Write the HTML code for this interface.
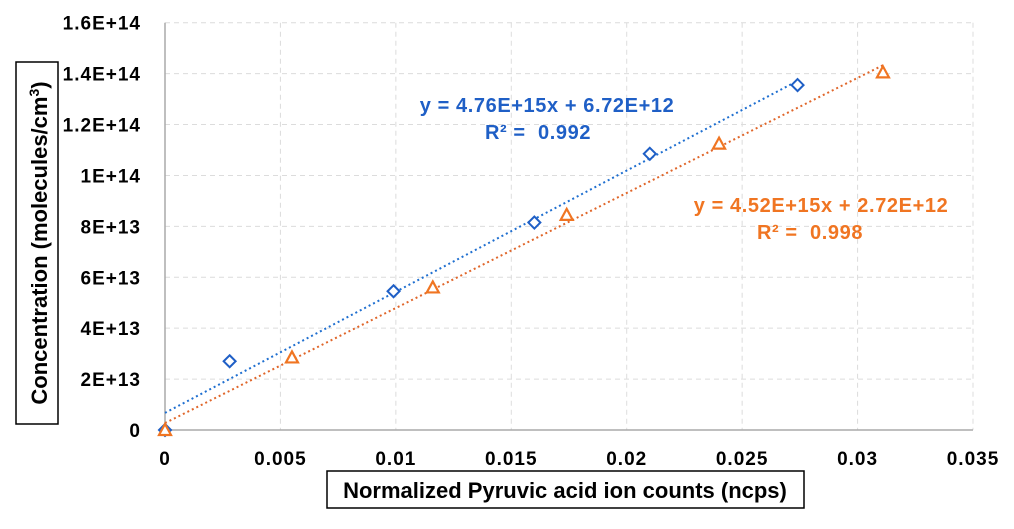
<!DOCTYPE html>
<html><head><meta charset="utf-8"><style>
body{margin:0;background:#fff;}
svg text{font-family:"Liberation Sans",sans-serif;font-weight:bold;white-space:pre;}
</style></head><body>
<svg id="c" width="1014" height="524" xmlns="http://www.w3.org/2000/svg">
<rect x="0" y="0" width="1014" height="524" fill="#fff"/>
<g id="grid"></g><g id="axes"></g><g id="trend"></g><g id="marks"></g>
<rect x="16" y="62" width="42" height="362" fill="#fff" stroke="#000" stroke-width="1.5"/>
<text x="0" y="0" transform="translate(47,243) rotate(-90)" text-anchor="middle" font-size="22">Concentration (molecules/cm<tspan baseline-shift="super" font-size="14">3</tspan>)</text>
<rect x="327" y="471" width="477" height="37" fill="#fff" stroke="#000" stroke-width="1.5"/>
<text x="565" y="498" text-anchor="middle" font-size="22">Normalized Pyruvic acid ion counts (ncps)</text>
<text x="547" y="112" text-anchor="middle" font-size="20" letter-spacing="0.6" fill="#1f5fc6">y = 4.76E+15x + 6.72E+12</text>
<text x="538" y="139" text-anchor="middle" font-size="20" letter-spacing="0.6" fill="#1f5fc6">R² =  0.992</text>
<text x="821" y="212" text-anchor="middle" font-size="20" letter-spacing="0.6" fill="#f07522">y = 4.52E+15x + 2.72E+12</text>
<text x="810" y="239" text-anchor="middle" font-size="20" letter-spacing="0.6" fill="#f07522">R² =  0.998</text>
</svg>
<script>
const xTicks=[0,0.005,0.01,0.015,0.02,0.025,0.03,0.035];
const xTickLabels=["0","0.005","0.01","0.015","0.02","0.025","0.03","0.035"];
const yTicks=[0,2e13,4e13,6e13,8e13,1e14,1.2e14,1.4e14,1.6e14];
const yTickLabels=["0","2E+13","4E+13","6E+13","8E+13","1E+14","1.2E+14","1.4E+14","1.6E+14"];
const blueX=[0,0.0028,0.0099,0.016,0.021,0.0274];
const blueY=[0,2.7e13,5.45e13,8.15e13,1.085e14,1.355e14];
const orangeX=[0,0.0055,0.0116,0.0174,0.024,0.0311];
const orangeY=[0,2.85e13,5.6e13,8.45e13,1.125e14,1.405e14];
const blueFit=[4.76e15,6.72e12];
const orangeFit=[4.52e15,2.72e12];
const X0=165,X1=973,Y0=430,Y1=22.7;
const sx=v=>X0+(v-0)/(0.035)*(X1-X0);
const sy=v=>Y0-(v/1.6e14)*(Y0-Y1);
const NS="http://www.w3.org/2000/svg";
function mk(tag,attrs,parent){const e=document.createElementNS(NS,tag);for(const k in attrs)e.setAttribute(k,attrs[k]);document.getElementById(parent).appendChild(e);return e;}
xTicks.forEach((t,i)=>{
 if(i>0){const g=mk('line',{x1:sx(t),x2:sx(t),y1:Y1,y2:Y0,stroke:'#dcdcdc','stroke-dasharray':'5,4'},'grid');
 
 }
 const l=mk('text',{x:sx(t),y:465,'text-anchor':'middle','font-size':19,'letter-spacing':1},'axes');l.textContent=xTickLabels[i];
 
 
});
yTicks.forEach((t,i)=>{
 if(i>0){const g=mk('line',{x1:X0,x2:X1,y1:sy(t),y2:sy(t),stroke:'#dcdcdc','stroke-dasharray':'5,4'},'grid');
 
 }
 const l=mk('text',{x:141,y:sy(t)+7,'text-anchor':'end','font-size':19,'letter-spacing':1},'axes');l.textContent=yTickLabels[i];
 
 
});
const ax=mk('line',{x1:X0,x2:X0,y1:Y1,y2:Y0,stroke:'#aaa','stroke-width':1.5},'axes');


const ax2=mk('line',{x1:X0,x2:X1,y1:Y0,y2:Y0,stroke:'#aaa','stroke-width':1.5},'axes');


function trend(fit,xs,col,name){
 const xm=Math.max(...xs);
 const t=mk('line',{x1:sx(0),y1:sy(fit[1]),x2:sx(xm),y2:sy(fit[0]*xm+fit[1]),stroke:col,'stroke-width':2,'stroke-dasharray':'2,3'},'trend');
 
 
}
trend(blueFit,blueX,'#1f6fd0','blue-trendline');
trend(orangeFit,orangeX,'#e0662a','orange-trendline');
blueX.forEach((x,i)=>{
 const cx=sx(x),cy=sy(blueY[i]),r=6;
 const p=mk('polygon',{points:`${cx},${cy-r} ${cx+r},${cy} ${cx},${cy+r} ${cx-r},${cy}`,fill:'#fff',stroke:'#1f5fc6','stroke-width':2},'marks');
 
 
});
orangeX.forEach((x,i)=>{
 const cx=sx(x),cy=sy(orangeY[i]);
 const p=mk('polygon',{points:`${cx},${cy-6} ${cx+6},${cy+5} ${cx-6},${cy+5}`,fill:'#fff',stroke:'#f07522','stroke-width':2.2},'marks');
 
 
});
</script>
</body></html>
